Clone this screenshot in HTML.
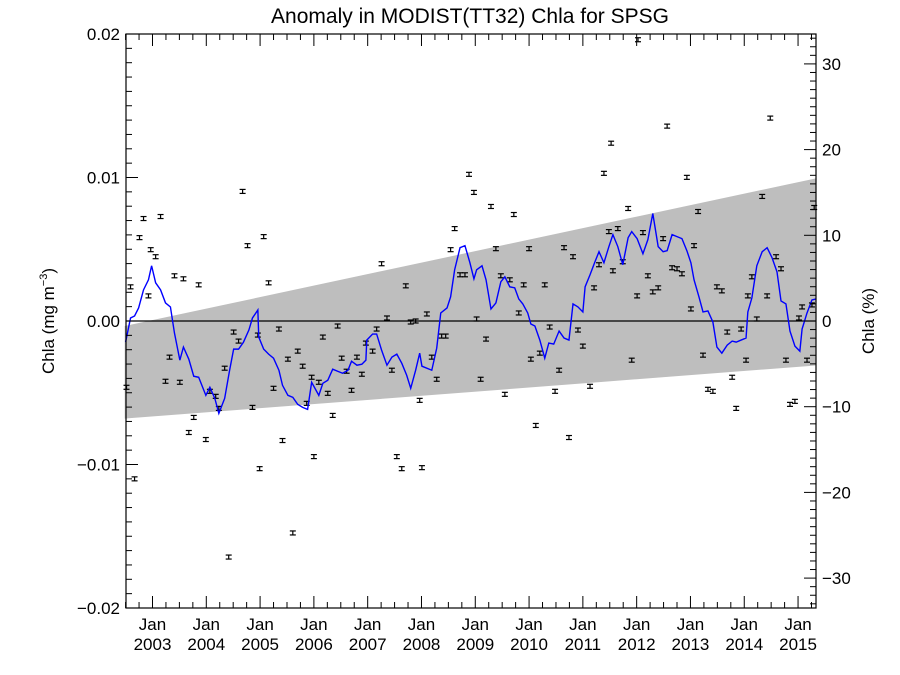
<!DOCTYPE html>
<html><head><meta charset="utf-8"><style>
html,body{margin:0;padding:0;background:#fff;}
svg{display:block;font-family:"Liberation Sans",Arial,sans-serif;}
</style></head><body>
<svg id="chart" width="900" height="675" viewBox="0 0 900 675" xmlns="http://www.w3.org/2000/svg">
<text x="470" y="23" font-size="21" text-anchor="middle">Anomaly in MODIST(TT32) Chla for SPSG</text>
<text transform="translate(54,321) rotate(-90)" font-size="17" text-anchor="middle">Chla (mg m<tspan font-size="11" dy="-7">−3</tspan><tspan dy="7">)</tspan></text>
<text transform="translate(874,321) rotate(-90)" font-size="17" text-anchor="middle">Chla (%)</text>
<g id="plot"></g>
</svg>
<script>
// months since Jul 2002
const pointMonths = [0.2,1.1,2.0,3.1,4.0,5.1,5.6,6.7,7.8,8.9,9.8,10.9,12.1,12.9,14.1,15.2,16.3,17.9,18.8,20.1,20.8,22.1,23.0,24.1,25.2,26.1,27.2,28.3,29.5,29.9,30.8,31.9,33.0,34.2,35.0,36.2,37.3,38.4,39.5,40.4,41.5,42.0,43.1,44.0,45.1,46.2,47.3,48.2,49.3,50.4,51.6,52.7,53.6,55.1,56.0,57.1,58.3,59.4,60.5,61.6,62.5,63.6,64.7,65.6,66.1,67.2,68.3,69.4,70.5,71.4,72.5,73.4,74.6,75.7,76.6,77.7,78.3,79.2,80.4,81.5,82.6,83.7,84.6,85.7,86.6,87.7,88.8,90.0,90.4,91.5,92.4,93.5,94.6,95.8,96.7,97.8,98.9,99.8,100.9,102.0,103.6,104.5,105.6,106.7,107.8,108.7,109.8,110.9,112.1,112.9,114.1,115.4,116.5,117.6,118.8,119.9,121.9,123.0,124.1,125.2,126.1,126.8,127.7,128.8,129.9,131.0,131.9,133.0,134.2,135.3,136.2,137.3,138.4,138.8,139.7,140.8,142.0,143.1,145.1,146.2,147.3,148.2,149.3,150.2,150.9,152.0,153.1,108.3,114.3,120.8,143.8,153.6];
const pointValues = [-0.00462,0.00238,-0.0110,0.00581,0.00714,0.00175,0.00497,0.00448,0.00728,-0.0042,-0.00252,0.00315,-0.00427,0.00294,-0.00777,-0.00672,0.00252,-0.00826,-0.0049,-0.00525,-0.00609,-0.00329,-0.01645,-0.00077,-0.0014,0.00903,0.00525,-0.00602,-0.00098,-0.01029,0.00588,0.00266,-0.00469,-0.00056,-0.00833,-0.00266,-0.01477,-0.0021,-0.00315,-0.00574,-0.00392,-0.00945,-0.00427,-0.00112,-0.00504,-0.00658,-0.00035,-0.00259,-0.0035,-0.00483,-0.00252,-0.00371,-0.00154,-0.0021,-0.00056,0.00399,0.00021,-0.00343,-0.00945,-0.01029,0.00245,-0.00007,0.0,-0.00553,-0.01022,0.00049,-0.00252,-0.00406,-0.00105,-0.00105,0.00497,0.00644,0.00322,0.00322,0.01022,0.00896,0.00014,-0.00406,-0.00126,0.00798,0.00504,0.00315,-0.00511,0.00287,0.00742,0.00056,0.00252,0.00504,-0.00266,-0.00728,-0.00224,0.00252,-0.00042,-0.0049,-0.00343,0.00511,-0.00812,0.00448,-0.00063,-0.00175,-0.00455,0.00231,0.00392,0.01029,0.00623,0.0035,0.00644,0.00413,0.00784,-0.00273,0.00175,0.00616,0.00315,0.00203,0.00231,0.00574,0.00371,0.00364,0.00329,0.01001,0.00084,0.00525,0.00763,-0.00238,-0.00476,-0.0049,0.00238,0.0021,-0.00077,-0.00392,-0.00609,-0.00056,-0.00273,0.00175,0.00308,0.00014,0.00868,0.00175,0.00448,0.00364,-0.00273,-0.00581,-0.0056,0.00021,0.00098,-0.00273,0.00112,0.01239,0.0196,0.01358,0.01414,0.00791];
const lineMonths = [0,1.1,2.0,2.9,4.0,5.1,5.8,6.7,7.8,8.9,10.0,10.9,12.1,12.9,14.1,15.2,16.3,17.9,18.8,19.9,20.8,22.1,23.2,24.1,25.2,26.3,27.5,28.3,29.5,29.7,30.8,31.9,33.0,34.2,35.0,36.2,37.3,38.4,39.5,40.6,41.5,43.1,44.0,45.1,46.2,47.3,48.4,49.6,50.4,51.6,52.7,53.6,53.8,55.1,56.0,57.1,58.3,59.4,60.5,61.6,62.7,63.6,64.7,65.6,66.1,68.3,69.4,70.3,71.7,72.5,73.4,74.6,75.7,76.8,77.7,78.3,79.5,80.4,81.5,82.6,83.7,84.6,85.7,86.8,87.7,88.6,89.7,90.4,91.3,92.4,93.5,94.4,95.5,96.7,97.8,98.9,99.8,100.9,102.0,102.5,103.6,104.7,105.6,106.7,107.8,108.7,109.8,110.9,112.1,112.9,114.1,115.4,116.5,117.6,118.8,119.9,120.8,121.9,123.0,124.1,125.2,126.1,126.8,127.9,128.8,129.9,131.0,131.9,133.0,134.2,135.3,136.2,137.3,138.4,138.8,139.7,140.8,142.0,143.1,144.2,145.3,146.2,147.3,148.2,149.3,150.4,150.9,152.0,153.1,154.0];
const lineValues = [-0.00147,0.00021,0.00035,0.00091,0.00217,0.00287,0.00385,0.00266,0.00217,0.00126,0.00098,-0.00084,-0.00273,-0.00182,-0.00266,-0.00385,-0.00392,-0.00518,-0.00462,-0.00539,-0.00644,-0.00539,-0.00343,-0.00196,-0.00196,-0.00147,-0.00063,0.00021,0.00077,-0.00112,-0.00196,-0.00231,-0.00259,-0.00343,-0.00448,-0.00518,-0.00532,-0.00581,-0.00602,-0.00616,-0.00427,-0.00518,-0.00434,-0.00413,-0.00336,-0.0035,-0.00364,-0.00343,-0.0028,-0.00308,-0.00301,-0.00273,-0.00133,-0.00091,-0.00091,-0.00203,-0.00308,-0.00252,-0.00231,-0.00294,-0.00378,-0.00469,-0.00343,-0.00224,-0.00315,-0.00343,-0.00189,0.00056,0.00091,0.00168,0.00357,0.00511,0.00525,0.00406,0.00294,0.00357,0.00385,0.00287,0.00084,0.00126,0.00273,0.00308,0.00238,0.00231,0.00154,0.00119,0.00056,-0.00021,-0.00035,-0.00133,-0.00259,-0.00154,-0.00161,-0.0007,-0.00119,-0.00133,0.00119,0.00098,0.00063,0.00238,0.00322,0.00413,0.00483,0.00406,0.00518,0.00602,0.00518,0.00392,0.00581,0.00623,0.00574,0.00469,0.00567,0.00749,0.00518,0.00483,0.0049,0.00602,0.00588,0.00574,0.0049,0.00406,0.00287,0.00168,0.00063,0.0007,-0.00007,-0.00182,-0.00224,-0.00168,-0.0014,-0.00147,-0.00133,-0.00119,0.00063,0.00161,0.00385,0.00483,0.00511,0.00441,0.00343,0.0014,0.00119,-0.0007,-0.00175,-0.0021,-0.00056,0.00056,0.00147,0.00154];
const bandMonths = [-0.2, 154.0];
const bandUpper = [-0.00035, 0.00994];
const bandLower = [-0.0068, -0.0031];
const yTicks = [0.02, 0.01, 0.0, -0.01, -0.02];
const yTickLabels = ["0.02","0.01","0.00","−0.01","−0.02"];
const y2Ticks = [30, 20, 10, 0, -10, -20, -30];
const yearLabels = ["2003","2004","2005","2006","2007","2008","2009","2010","2011","2012","2013","2014","2015"];

const L=126,R=816,T=34,B=608;
const xS = m => 125.6 + m*4.483;
const yS = v => 321 - v*14350;
const pS = p => 321 - p*8.57;
const NS="http://www.w3.org/2000/svg";
const g=document.getElementById('plot');
function mk(tag,attrs,parent){const e=document.createElementNS(NS,tag);for(const k in attrs)e.setAttribute(k,attrs[k]);(parent||g).appendChild(e);return e;}

// band
const bp=[[xS(bandMonths[0]),yS(bandUpper[0])],[xS(bandMonths[1]),yS(bandUpper[1])],[xS(bandMonths[1]),yS(bandLower[1])],[xS(bandMonths[0]),yS(bandLower[0])]];
const band=mk('polygon',{points:bp.map(p=>p.join(',')).join(' '),fill:'#bebebe'});


// zero line
const zl=mk('line',{x1:L,x2:R,y1:yS(0),y2:yS(0),stroke:'#000','stroke-width':1.3});


// points
pointMonths.forEach((m,i)=>{
  const x=xS(m),y=yS(pointValues[i]);
  const pg=mk('g',{stroke:'#000','stroke-width':1.2});
  
  
  mk('line',{x1:x,x2:x,y1:y-2,y2:y+2},pg);
  mk('line',{x1:x-3,x2:x+3,y1:y-2,y2:y-2},pg);
  mk('line',{x1:x-3,x2:x+3,y1:y+2,y2:y+2},pg);
});
// line
const ln=mk('polyline',{points:lineMonths.map((m,i)=>xS(m)+','+yS(lineValues[i])).join(' '),fill:'none',stroke:'#0000ff','stroke-width':1.4});


// frame
const fr=mk('rect',{x:L,y:T,width:R-L,height:B-T,fill:'none',stroke:'#000','stroke-width':1.2});


// left axis ticks
for(let k=-20;k<=20;k++){
  const y=yS(k*0.001),len=(k%10===0)?12:6;
  mk('line',{x1:L,x2:L+len,y1:y,y2:y,stroke:'#000','stroke-width':1});
}
yTicks.forEach((v,i)=>{
  const t=mk('text',{x:L-6,y:yS(v)+6,'font-size':17,'text-anchor':'end'});
  t.textContent=yTickLabels[i];
  
  
});
// right axis ticks
for(let p=-33;p<=33;p++){
  const y=pS(p);if(y<T||y>B)continue;
  const len=(p%10===0)?12:6;
  mk('line',{x1:R-len,x2:R,y1:y,y2:y,stroke:'#000','stroke-width':1});
}
y2Ticks.forEach(p=>{
  const t=mk('text',{x:R+6,y:pS(p)+6,'font-size':17,'text-anchor':'start'});
  t.textContent=(p<0?'−':'')+Math.abs(p);
  
  
});
// x ticks every 3 months
for(let m=0;m<=154;m+=3){
  const x=xS(m),major=((m-6)%12===0);
  const len=major?12:6;
  mk('line',{x1:x,x2:x,y1:B,y2:B-len,stroke:'#000','stroke-width':1});
  mk('line',{x1:x,x2:x,y1:T,y2:T+len,stroke:'#000','stroke-width':1});
}
yearLabels.forEach((yr,i)=>{
  const x=xS(6+12*i);
  const t1=mk('text',{x:x,y:B+22,'font-size':17,'text-anchor':'middle'});
  t1.textContent='Jan';
  
  
  const t2=mk('text',{x:x,y:B+42,'font-size':17,'text-anchor':'middle'});
  t2.textContent=yr;
  
  
});
</script>
</body></html>
